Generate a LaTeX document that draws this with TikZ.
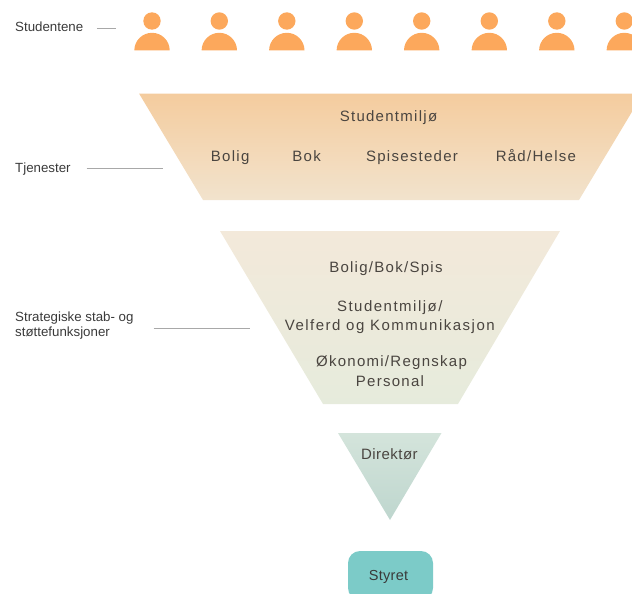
\documentclass[tikz,border=0pt]{standalone}
\usepackage{fontspec}
\setmainfont{Liberation Sans}
\usepackage{tikz}
\definecolor{personorange}{HTML}{FCA85C}
\definecolor{tealbox}{HTML}{7CCBC8}
\definecolor{leadergray}{HTML}{A8A8A8}
\definecolor{labeltext}{HTML}{3A3A3A}
\definecolor{unittext}{HTML}{4A4540}
\definecolor{tjenestertop}{HTML}{F4CC9E}
\definecolor{tjenesterbottom}{HTML}{F2E3CD}
\definecolor{stabtop}{HTML}{F3E9DA}
\definecolor{stabbottom}{HTML}{E6EBDC}
\definecolor{direktortop}{HTML}{D4E4DB}
\definecolor{direktorbottom}{HTML}{BED6CE}
\tikzset{
	sidelabel/.style={anchor=base west,align=left,text=labeltext,font=\fontsize{13.3}{15.5}\selectfont},
	unitlabel/.style={anchor=base,align=center,text=unittext,font=\fontsize{15}{18.5}\selectfont\addfontfeature{LetterSpace=8.5}},
	leader/.style={draw=leadergray,line width=0.9pt}
}
\begin{document}
\begin{tikzpicture}[x=1pt,y=-1pt]
		\useasboundingbox (0,0) rectangle (632,594);
		% funnel shapes
		\path[top color=tjenestertop,bottom color=tjenesterbottom]
			(139,93.5) -- (643,93.5) -- (579,200) -- (203,200) -- cycle;
		\path[top color=stabtop,bottom color=stabbottom]
			(220,231) -- (560,231) -- (458,404) -- (323,404) -- cycle;
		\path[top color=direktortop,bottom color=direktorbottom]
			(338,433) -- (441.5,433) -- (390,520) -- cycle;
		% people
		\foreach \px in {152,219.3,286.8,354.3,421.7,489.3,556.8,624.3} {
			\fill[personorange] (\px,21) circle (8.7);
			\fill[personorange] (\px-17.7,50.5) arc[start angle=180,end angle=360,x radius=17.7,y radius=17.7] -- cycle;
		}
		\node[sidelabel] (studentene) at (11.7,32) {Studentene};
		\node[sidelabel] (tjenester) at (11.7,172.7) {Tjenester};
		\node[sidelabel] (strategiske) at (11.7,336.5) {Strategiske stab- og\\støttefunksjoner};
		\coordinate (studenteneend) at (116,28);
		\coordinate (tjenesterend) at (163,168);
		\coordinate (strategiskeend) at (250,328.5);
		\draw[leader] (studentene.east |- studenteneend) ++(10,0) -- (studenteneend);
		\draw[leader] (tjenester.east |- tjenesterend) ++(12.5,0) -- (tjenesterend);
		\draw[leader] (strategiske.east |- strategiskeend) ++(16.5,0) -- (strategiskeend);
		\node[unitlabel] (studentmiljo) at (388.5,121.5) {Studentmiljø};
		\node[unitlabel] (bolig) at (230.2,161.7) {Bolig};
		\node[unitlabel] (bok) at (306.6,161.7) {Bok};
		\node[unitlabel] (spisesteder) at (412,161.7) {Spisesteder};
		\node[unitlabel] (radhelse) at (535.9,161.7) {Råd/Helse};
		\node[unitlabel] (boligbok) at (385.9,272.3) {Bolig/Bok/Spis};
		\node[unitlabel,font=\fontsize{15}{18.5}\selectfont\addfontfeature{LetterSpace=10}] (velferd) at (389.8,330) {Studentmiljø/\\Velferd og Kommunikasjon};
		\node[unitlabel] (okonomi) at (391.5,366.7) {Økonomi/Regnskap};
		\node[unitlabel] (personal) at (390,386) {Personal};
		\node[unitlabel,font=\fontsize{15}{18}\selectfont\addfontfeature{LetterSpace=3}] (direktor) at (389.4,459.5) {Direktør};
		\node[fill=tealbox,rounded corners=12pt,minimum width=85pt,minimum height=49pt,inner sep=0pt] (styretbox) at (390.5,575.5) {};
		\node[unitlabel,text=labeltext,font=\fontsize{14.5}{18}\selectfont\addfontfeature{LetterSpace=2}] (styret) at (388.5,580.3) {Styret};
	\end{tikzpicture}
\end{document}
